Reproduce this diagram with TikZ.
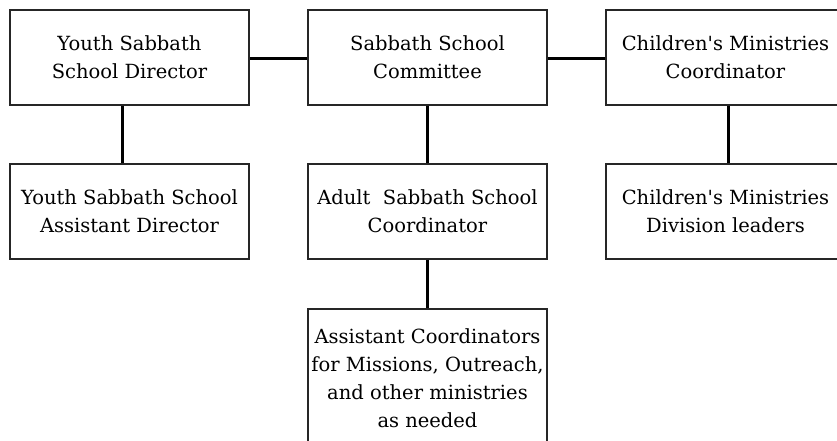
\documentclass[tikz,border=0pt]{standalone}
\usepackage{fontspec}
\setmainfont{DejaVu Serif}
\begin{document}
\begin{tikzpicture}[x=1pt,y=-1pt,
  box/.style={draw=black!85,line width=1.3pt,fill=white,minimum width=239pt,minimum height=95pt,
    align=center,inner sep=0pt,font=\fontsize{19.5}{28}\selectfont},
  conn/.style={line width=3pt,black}]
\useasboundingbox[fill=white] (0,0) rectangle (837,440);
\node[box] (ysd) at (129.5,57.5) {Youth Sabbath\\School Director};
\node[box] (ssc) at (427.5,57.5) {Sabbath School\\Committee};
\node[box] (cmc) at (725.5,57.5) {Children\textquotesingle s Ministries\\Coordinator};
\node[box] (ysa) at (129.5,211.5) {Youth Sabbath School\\Assistant Director};
\node[box] (asc) at (427.5,211.5) {Adult\ \ Sabbath School\\Coordinator};
\node[box] (cmd) at (725.5,211.5) {Children\textquotesingle s Ministries\\Division leaders};
\node[box,minimum height=138pt] (aco) at (427.5,378) {Assistant Coordinators\\for Missions, Outreach,\\and other ministries\\as needed};
\draw[conn] ([yshift=-1pt]ysd.east) -- ([yshift=-1pt]ssc.west);
\draw[conn] ([yshift=-1pt]ssc.east) -- ([yshift=-1pt]cmc.west);
\draw[conn] ([xshift=-7.5pt]ysd.south) -- ([xshift=-7.5pt]ysa.north);
\draw[conn] (ssc.south) -- (asc.north);
\draw[conn] ([xshift=2.5pt]cmc.south) -- ([xshift=2.5pt]cmd.north);
\draw[conn] (asc.south) -- (aco.north);
\end{tikzpicture}
\end{document}
